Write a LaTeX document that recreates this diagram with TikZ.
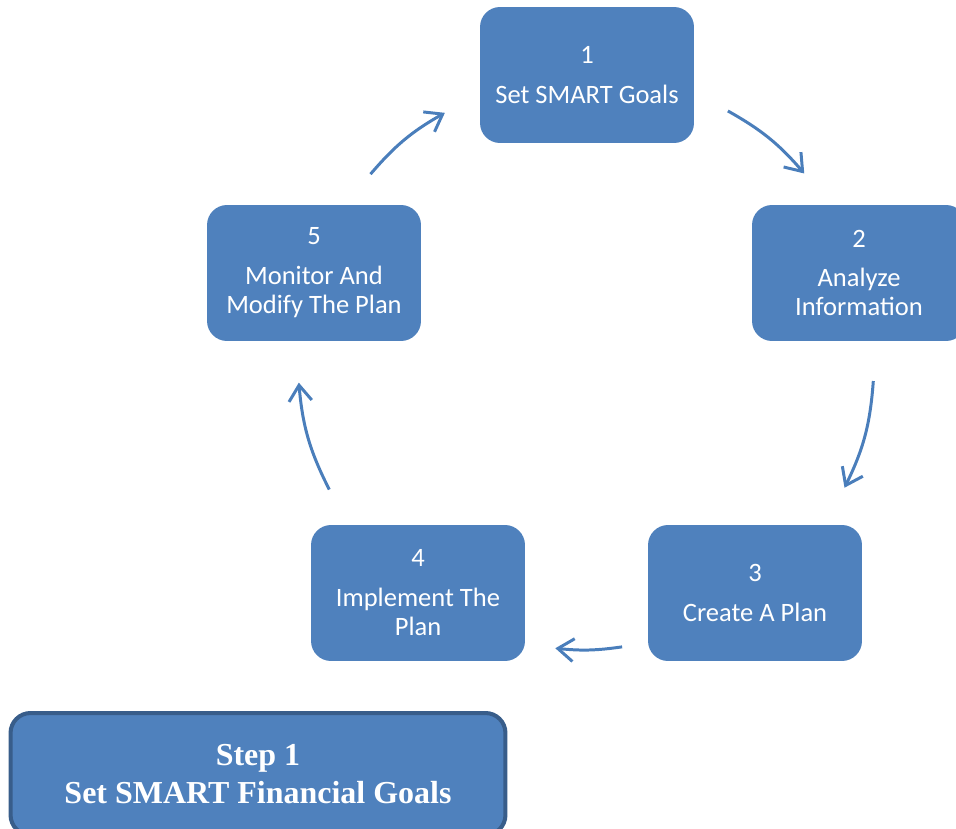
\documentclass[tikz,border=0pt]{standalone}
\usepackage{fontspec}
\setmainfont{Carlito}
\newfontfamily\tnr{Liberation Serif}
\usetikzlibrary{arrows.meta,calc}
\definecolor{boxB}{RGB}{79,129,189}
\definecolor{lineB}{RGB}{74,126,187}
\definecolor{edgeB}{RGB}{56,93,138}
\begin{document}
\begin{tikzpicture}[x=0.02cm,y=0.02cm,>={Straight Barb[length=9pt,width=13pt]},
  cyclebox/.style={fill=boxB,rounded corners=0.4cm,minimum width=4.28cm,minimum height=2.72cm,
    text=white,align=center,font=\fontsize{15.1}{16.6}\selectfont},
  goalbox/.style={fill=boxB,draw=edgeB,line width=2.3pt,rounded corners=0.4cm,minimum width=9.9cm,
    minimum height=2.44cm,text=white,align=center,font=\tnr\bfseries\fontsize{18.2}{21.6}\selectfont},
  cyc/.style={->,lineB,line width=1.7pt}]
\useasboundingbox (0,0) rectangle (956,-828);
\clip (0,0) rectangle (956,-828);
\node[cyclebox] (s1) at (587,-75) {1\\[6pt]Set SMART Goals};
\node[cyclebox] (s2) at (859,-273) {2\\[6pt]Analyze\\Information};
\node[cyclebox] (s3) at (755,-593) {3\\[6pt]Create A Plan};
\node[cyclebox] (s4) at (418,-593) {4\\[6pt]Implement The\\Plan};
\node[cyclebox] (s5) at (314,-273) {5\\[6pt]Monitor And\\Modify The Plan};
\node[goalbox] (goal) at (258,-774) {Step 1\\Set SMART Financial Goals};
\coordinate (ctr) at (587,-361);
\coordinate (a1s) at ($(ctr)+(60.6:287)$); \coordinate (a1e) at ($(ctr)+(40.8:287)$);
\coordinate (a2s) at ($(ctr)+(-4:287)$); \coordinate (a2e) at ($(ctr)+(-26.2:287)$);
\coordinate (a3s) at ($(ctr)+(-83:288)$); \coordinate (a3e) at ($(ctr)+(-96.3:289)$);
\coordinate (a4s) at ($(ctr)+(206.5:288)$); \coordinate (a4e) at ($(ctr)+(184.3:289)$);
\coordinate (a5s) at ($(ctr)+(139.2:286)$); \coordinate (a5e) at ($(ctr)+(119.8:286)$);
\draw[cyc] (a1s) to[bend left=10] (a1e);
\draw[cyc] (a2s) to[bend left=11] (a2e);
\draw[cyc] (a3s) to[bend left=7] (a3e);
\draw[cyc] (a4s) to[bend left=11] (a4e);
\draw[cyc] (a5s) to[bend left=10] (a5e);
\end{tikzpicture}
\end{document}
